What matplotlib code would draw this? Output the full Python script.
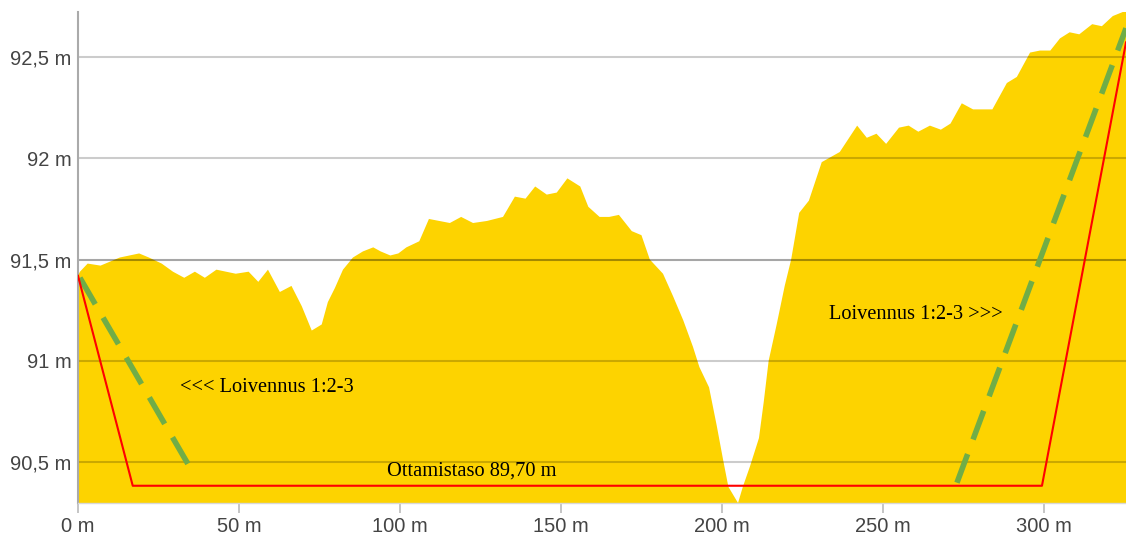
import matplotlib
matplotlib.use("Agg")
import matplotlib.pyplot as plt

# terrain profile (distance m, elevation m)
dist = [0, 0.6, 3, 7, 10, 13, 16, 19, 22, 26, 29.5, 33, 36.3, 39.4, 43, 46, 49, 53,
        56, 59, 62.7, 66.3, 69.5, 72.6, 75.7, 77.6, 79.8, 82.3, 85.4, 88.5, 91.7, 94,
        97, 99.5, 102, 106, 109, 115.5, 119, 122.7, 127, 132, 135.7, 139, 142, 145.6,
        148.7, 152, 156, 158.5, 162, 165, 168, 172, 175, 177.6, 181.7, 184.8, 188, 191,
        193, 196, 198.4, 200.4, 202, 205, 206.5, 208.7, 211.5, 213, 214.5, 217, 219.5,
        221.5, 224, 227, 231, 236.6, 242, 245, 248, 251, 255, 258, 261, 264.6, 268, 271,
        274.5, 278, 284, 288.5, 291.6, 295.7, 298.8, 302, 305, 308, 311, 315, 318, 321.4,
        324.5, 325.5]
elev = [91.42, 91.44, 91.48, 91.47, 91.49, 91.51, 91.52, 91.53, 91.51, 91.48, 91.44,
        91.41, 91.44, 91.41, 91.45, 91.44, 91.43, 91.44, 91.39, 91.45, 91.34, 91.37,
        91.27, 91.15, 91.18, 91.29, 91.36, 91.45, 91.51, 91.54, 91.56, 91.54, 91.52,
        91.53, 91.56, 91.59, 91.70, 91.68, 91.71, 91.68, 91.69, 91.71, 91.81, 91.80,
        91.86, 91.82, 91.83, 91.90, 91.86, 91.76, 91.71, 91.71, 91.72, 91.64, 91.62,
        91.50, 91.43, 91.32, 91.20, 91.07, 90.97, 90.87, 90.68, 90.51, 90.38, 90.30,
        90.38, 90.48, 90.62, 90.80, 91.00, 91.18, 91.37, 91.50, 91.73, 91.79, 91.98,
        92.03, 92.16, 92.10, 92.12, 92.07, 92.15, 92.16, 92.13, 92.16, 92.14, 92.17,
        92.27, 92.24, 92.24, 92.37, 92.40, 92.52, 92.53, 92.53, 92.59, 92.62, 92.61,
        92.66, 92.65, 92.70, 92.72, 92.72]

# excavation outline (red) and slope lines (green dashed)
cut_x = [0, 17, 299.4, 325.5]
cut_y = [91.42, 90.385, 90.385, 92.57]
slope_left_x = [0.6, 35.7]
slope_left_y = [91.41, 90.45]
slope_right_x = [273, 325.5]
slope_right_y = [90.40, 92.64]

y_ticks = [90.5, 91.0, 91.5, 92.0, 92.5]
x_ticks = [0, 50, 100, 150, 200, 250, 300]

fig = plt.figure(figsize=(11.26, 5.5), dpi=100)
ax = fig.add_axes([78 / 1126, 1 - 503 / 550, 1 - 78 / 1126, 491 / 550])

ax.fill_between(dist, elev, 90.0, color="#FDD300", lw=0, zorder=1)
for yt in y_ticks:
    ax.axhline(yt, color="black", alpha=0.35 if yt == 91.5 else 0.2, lw=1.5, zorder=2)

ax.plot(cut_x, cut_y, color="#FF0000", lw=1.5, zorder=4)
ax.plot(slope_left_x, slope_left_y, color="#70AD47", lw=4.0, dashes=(5.5, 2.8),
        solid_capstyle="butt", dash_capstyle="butt", zorder=3)
ax.plot(slope_right_x, slope_right_y, color="#70AD47", lw=4.0, dashes=(5.5, 2.8),
        solid_capstyle="butt", dash_capstyle="butt", zorder=3)

serif = ["Liberation Serif", "DejaVu Serif"]
ax.text(31.7, 90.87, "<<< Loivennus 1:2-3", family=serif, fontsize=14.7, va="center", zorder=5)
ax.text(96, 90.456, "Ottamistaso 89,70 m", family=serif, fontsize=14.7, va="center", zorder=5)
ax.text(233.2, 91.23, "Loivennus 1:2-3 >>>", family=serif, fontsize=14.7, va="center", zorder=5)

ax.set_xlim(0, 325.5)
ax.set_ylim(90.30, 92.72)
ax.set_yticks(y_ticks)
ax.set_yticklabels([f"{v:g}".replace(".", ",") + " m" for v in y_ticks])
ax.set_xticks(x_ticks)
ax.set_xticklabels([f"{v} m" for v in x_ticks])

lab = dict(family=["Liberation Sans", "DejaVu Sans"], fontsize=14.5, color="#444444")
for t in ax.get_xticklabels() + ax.get_yticklabels():
    t.set(**lab)
ax.tick_params(axis="y", length=0, pad=4.5)
ax.tick_params(axis="x", length=7, width=1.2, color="#bbbbbb", pad=3)

for s in ["top", "right"]:
    ax.spines[s].set_visible(False)
ax.spines["left"].set_color("#aaaaaa")
ax.spines["left"].set_linewidth(1.5)
ax.spines["bottom"].set_color("#d8d8d8")
ax.spines["bottom"].set_linewidth(1.0)

fig.savefig("out.png", dpi=100)
